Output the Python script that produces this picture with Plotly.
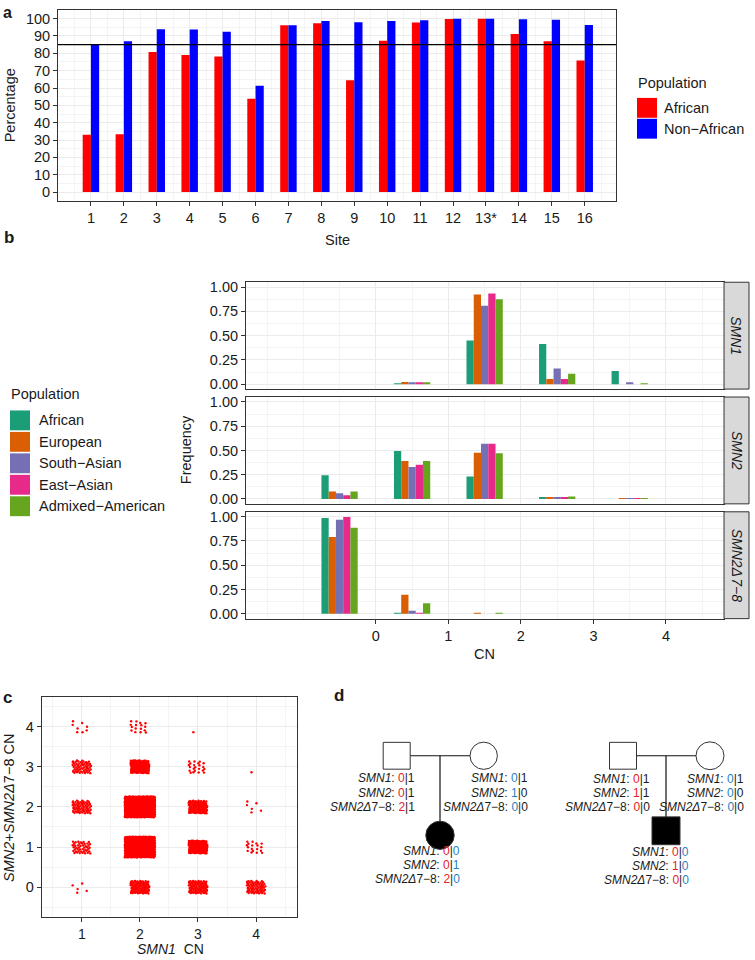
import plotly.graph_objects as go

W, H = 755, 960
FONT = "Liberation Sans, Arial, Helvetica, sans-serif"
TXT = "#1a1a1a"
TICK = 14.5

# ---------------- Panel a data ----------------
sites = ["1", "2", "3", "4", "5", "6", "7", "8", "9", "10", "11", "12", "13*", "14", "15", "16"]
african_pct = [33.0, 33.4, 80.7, 79.0, 78.1, 53.8, 96.2, 97.3, 64.5, 87.2, 97.7, 99.8, 100.0, 91.2, 87.0, 75.8]
non_african_pct = [85.2, 87.0, 93.9, 93.7, 92.4, 61.3, 96.2, 98.7, 97.9, 98.7, 99.1, 99.9, 100.0, 99.6, 99.4, 96.4]
threshold_pct = 85
pop_a = ["African", "Non\u2212African"]
colors_a = ["#FF0000", "#0000FF"]

# ---------------- Panel b data ----------------
cn_values = [0, 1, 2, 3, 4]
populations = ["African", "European", "South\u2212Asian", "East\u2212Asian", "Admixed\u2212American"]
pop_colors = ["#1B9E77", "#D95F02", "#7570B3", "#E7298A", "#66A61E"]
genes = ["SMN1", "SMN2", "SMN2\u0394\u200a7\u22128"]
smn1_freq = [
    [0.0, 0.005, 0.449, 0.415, 0.135],
    [0.0, 0.023, 0.925, 0.054, 0.0],
    [0.0, 0.015, 0.807, 0.162, 0.020],
    [0.0, 0.015, 0.935, 0.054, 0.0],
    [0.0, 0.020, 0.874, 0.108, 0.005],
]
smn2_freq = [
    [0.245, 0.495, 0.232, 0.012, 0.0],
    [0.078, 0.392, 0.476, 0.020, 0.003],
    [0.058, 0.330, 0.568, 0.015, 0.003],
    [0.038, 0.352, 0.570, 0.012, 0.003],
    [0.078, 0.392, 0.470, 0.025, 0.003],
]
smn2d78_freq = [
    [0.987, 0.010, 0.0, 0.0, 0.0],
    [0.790, 0.195, 0.010, 0.0, 0.0],
    [0.967, 0.030, 0.0, 0.0, 0.0],
    [0.997, 0.002, 0.0, 0.0, 0.0],
    [0.886, 0.108, 0.005, 0.0, 0.0],
]
freq_by_gene = [smn1_freq, smn2_freq, smn2d78_freq]

# ---------------- Panel c data ----------------
cell_smn1_cn = [1, 1, 1, 1, 1, 2, 2, 2, 2, 2, 3, 3, 3, 3, 3, 4, 4, 4, 4]
cell_smn2_total_cn = [0, 1, 2, 3, 4, 0, 1, 2, 3, 4, 0, 1, 2, 3, 4, 0, 1, 2, 3]
cell_counts = [5, 45, 70, 60, 8, 110, 750, 1000, 170, 16, 100, 190, 130, 22, 1, 75, 18, 6, 1]

# ---------------- Panel d data ----------------
ped_genes = ["<i>SMN1</i>: ", "<i>SMN2</i>: ", "<i>SMN2\u0394</i>7\u22128: "]
fam1_father = ["0|1", "0|1", "2|1"]
fam1_mother = ["0|1", "1|0", "0|0"]
fam1_child = ["0|0", "0|1", "2|0"]
fam2_father = ["0|1", "1|1", "0|0"]
fam2_mother = ["0|1", "0|0", "0|0"]
fam2_child = ["0|0", "1|0", "0|0"]


def X(px):
    return px / W


def Y(py):
    return 1 - py / H


def axstyle(**kw):
    d = dict(showline=True, mirror=True, linecolor="#333333", linewidth=1,
             showgrid=True, gridcolor="#EBEBEB", gridwidth=1, zeroline=False,
             ticks="outside", ticklen=4, tickcolor="#333333", tickwidth=1,
             tickfont=dict(size=TICK, color=TXT, family=FONT), fixedrange=True)
    d.update(kw)
    return d


def minor(vals):
    return dict(tickvals=vals, showgrid=True, gridcolor="#F4F4F4", gridwidth=0.6, ticks="")


fig = go.Figure()
shapes = []
anns = []


def ann(text, x, y, size=14.5, xanchor="center", yanchor="middle", angle=0, bold=False, color=TXT):
    if bold:
        text = "<b>" + text + "</b>"
    anns.append(dict(text=text, x=X(x), y=Y(y), xref="paper", yref="paper", showarrow=False,
                     xanchor=xanchor, yanchor=yanchor, textangle=angle,
                     font=dict(size=size, color=color, family=FONT), borderpad=0))


# ---------------- Panel a ----------------
site_pos = list(range(1, len(sites) + 1))
for vals, col, off in [(african_pct, colors_a[0], -0.25), (non_african_pct, colors_a[1], 0.0)]:
    fig.add_trace(go.Bar(x=site_pos, y=vals, width=0.25, offset=off, marker=dict(color=col, line=dict(width=0)),
                         xaxis="x", yaxis="y", showlegend=False, hoverinfo="x+y"))
shapes.append(dict(type="line", xref="x domain", yref="y", x0=0, x1=1, y0=threshold_pct, y1=threshold_pct,
                   line=dict(color="#000000", width=1.2)))

# legend a
ann("Population", 637, 81, xanchor="left")
for i, (lab, col) in enumerate(zip(pop_a, colors_a)):
    y0 = 95.5 + i * 21
    shapes.append(dict(type="rect", xref="paper", yref="paper", x0=X(637), x1=X(657), y0=Y(y0 + 20), y1=Y(y0),
                       fillcolor=col, line=dict(width=0)))
    ann(lab, 663, y0 + 10, xanchor="left")

ann("a", 2, 0, size=16, xanchor="left", yanchor="top", bold=True)
ann("Percentage", 10, 103, angle=-90)
ann("Site", 337, 238)

# ---------------- Panel b ----------------
facet_y = [(281, 388.5), (396.5, 504), (512, 619.5)]
for g, freqs in enumerate(freq_by_gene):
    xa = "x" + str(g + 2)
    ya = "y" + str(g + 2)
    for k, (pop, col) in enumerate(zip(populations, pop_colors)):
        fig.add_trace(go.Bar(x=cn_values, y=freqs[k], width=0.1, offset=-0.25 + 0.1 * k,
                             marker=dict(color=col, line=dict(width=0)), xaxis=xa, yaxis=ya,
                             showlegend=False, name=pop))
    top, bot = facet_y[g]
    shapes.append(dict(type="rect", xref="paper", yref="paper", x0=X(724), x1=X(749), y0=Y(bot), y1=Y(top),
                       fillcolor="#D9D9D9", line=dict(color="#333333", width=1), layer="above"))
    ann("<i>" + genes[g] + "</i>", 736.5, (top + bot) / 2, size=14, angle=90)

ann("b", 3, 236, size=17, xanchor="left", bold=True)
ann("Frequency", 186, 450, angle=-90)
ann("CN", 485, 655)

ann("Population", 10, 393, xanchor="left")
for i, (lab, col) in enumerate(zip(populations, pop_colors)):
    y0 = 410 + i * 21.6
    shapes.append(dict(type="rect", xref="paper", yref="paper", x0=X(10), x1=X(30), y0=Y(y0 + 20), y1=Y(y0),
                       fillcolor=col, line=dict(width=0)))
    ann(lab, 38, y0 + 10, xanchor="left")

# ---------------- Panel c ----------------
px_c, py_c = [], []
a1, a2 = 0.7548776662466927, 0.5698402909980532
for cx, cy, n in zip(cell_smn1_cn, cell_smn2_total_cn, cell_counts):
    hw = 0.26 if n >= 500 else 0.16
    for i in range(1, n + 1):
        u = (0.5 + i * a1) % 1.0
        v = (0.5 + i * a2) % 1.0
        px_c.append(cx + (2 * u - 1) * hw)
        py_c.append(cy + (2 * v - 1) * hw)
fig.add_trace(go.Scatter(x=px_c, y=py_c, mode="markers", marker=dict(color="#FF0000", size=2.4, line=dict(width=0)),
                         xaxis="x5", yaxis="y5", showlegend=False, hoverinfo="skip"))
ann("c", 2, 699, size=17, xanchor="left", bold=True)
ann("<i>SMN2</i>+<i>SMN2\u0394</i>7\u22128 CN", 9, 810, angle=-90)
ann("<i>SMN1</i>  CN", 170, 952, size=14, yanchor="middle")

# ---------------- Panel d ----------------
ann("d", 333, 697, size=17, xanchor="left", bold=True)
RED, BLUE = "#E8202A", "#2A7FC1"


def geno_text(gt, c1, c2):
    a, b = gt.split("|")
    return "<span style='color:%s'>%s</span>|<span style='color:%s'>%s</span>" % (c1, a, c2, b)


def person_text(gts, right, ys, c1, c2):
    for gname, gt, yy in zip(ped_genes, gts, ys):
        ann(gname + geno_text(gt, c1, c2), right, yy, size=12, xanchor="right")


def line(x0, y0, x1, y1):
    shapes.append(dict(type="line", xref="paper", yref="paper", x0=X(x0), y0=Y(y0), x1=X(x1), y1=Y(y1),
                       line=dict(color="#111111", width=1.2)))


def square(cx, cy, s, filled):
    shapes.append(dict(type="rect", xref="paper", yref="paper", x0=X(cx - s / 2), x1=X(cx + s / 2),
                       y0=Y(cy + s / 2), y1=Y(cy - s / 2), fillcolor="#000000" if filled else "#FFFFFF",
                       line=dict(color="#333333", width=1)))


def circle(cx, cy, r, filled):
    shapes.append(dict(type="circle", xref="paper", yref="paper", x0=X(cx - r), x1=X(cx + r),
                       y0=Y(cy + r), y1=Y(cy - r), fillcolor="#000000" if filled else "#FFFFFF",
                       line=dict(color="#333333", width=1)))


# family 1
line(410, 757.5, 470, 757.5)
line(440, 757.5, 440, 824)
square(396.7, 757.5, 27, False)
circle(483.7, 757.5, 13.7, False)
circle(440, 837.5, 14.2, True)
person_text(fam1_father, 416, [780, 795, 809.5], RED, TXT)
person_text(fam1_mother, 529, [780, 795, 809.5], BLUE, TXT)
person_text(fam1_child, 461, [853, 867.5, 882], RED, BLUE)

# family 2
line(636.7, 757.5, 696, 757.5)
line(666, 757.5, 666, 819.5)
square(623, 757.5, 27, False)
circle(710, 757.5, 14, False)
square(666, 833, 28, True)
person_text(fam2_father, 651, [780.5, 795, 809], RED, TXT)
person_text(fam2_mother, 745, [780.5, 795, 809], BLUE, TXT)
person_text(fam2_child, 690, [854, 868.5, 883], RED, BLUE)

# ---------------- Layout ----------------
cn_ticks = [c + 0.5 for c in cn_values]
cn_minor = [-1.0, -0.5] + [float(c) for c in cn_values] + [5.0]
freq_ticks = [0, 0.25, 0.5, 0.75, 1.0]
freq_minor = [0.125, 0.375, 0.625, 0.875]

layout = dict(
    width=W, height=H, autosize=False, margin=dict(l=0, r=0, t=0, b=0),
    paper_bgcolor="white", plot_bgcolor="white", barmode="overlay",
    font=dict(family=FONT, color=TXT), showlegend=False,
    xaxis=axstyle(domain=[X(58), X(616)], anchor="y", range=[0, 16.95], tickmode="array",
                  tickvals=site_pos, ticktext=sites, minor=minor([p - 0.5 for p in site_pos] + [16.5])),
    yaxis=axstyle(domain=[Y(199), Y(7)], anchor="x", range=[-5, 105], tickmode="array",
                  tickvals=list(range(0, 101, 10)), minor=minor(list(range(5, 100, 10)))),
)
for g in range(3):
    top, bot = facet_y[g]
    last = g == 2
    layout["xaxis" + str(g + 2)] = axstyle(domain=[X(246), X(724)], anchor="y" + str(g + 2), range=[-1.29, 5.3],
                                           tickmode="array", tickvals=cn_ticks,
                                           ticktext=[str(c) for c in cn_values],
                                           showticklabels=last, ticks="outside" if last else "",
                                           minor=minor(cn_minor))
    layout["yaxis" + str(g + 2)] = axstyle(domain=[Y(bot), Y(top)], anchor="x" + str(g + 2), range=[-0.05, 1.05],
                                           tickmode="array", tickvals=freq_ticks,
                                           ticktext=["%.2f" % t for t in freq_ticks], minor=minor(freq_minor))
layout["xaxis5"] = axstyle(domain=[X(41.7), X(297.3)], anchor="y5", range=[0.31, 4.71], tickmode="array",
                           tickvals=[1, 2, 3, 4], tickfont=dict(size=14, color=TXT, family=FONT),
                           minor=minor([0.5, 1.5, 2.5, 3.5, 4.5]))
layout["yaxis5"] = axstyle(domain=[Y(920), Y(698.3)], anchor="x5", range=[-0.75, 4.74], tickmode="array",
                           tickvals=[0, 1, 2, 3, 4], minor=minor([-0.5, 0.5, 1.5, 2.5, 3.5, 4.5]))
layout["shapes"] = shapes
layout["annotations"] = anns
fig.update_layout(**layout)
fig.write_html("out.html", config={"displayModeBar": False},
               post_script="document.body.style.margin='0';document.body.style.padding='0';"
                           "document.body.style.overflow='hidden';")
